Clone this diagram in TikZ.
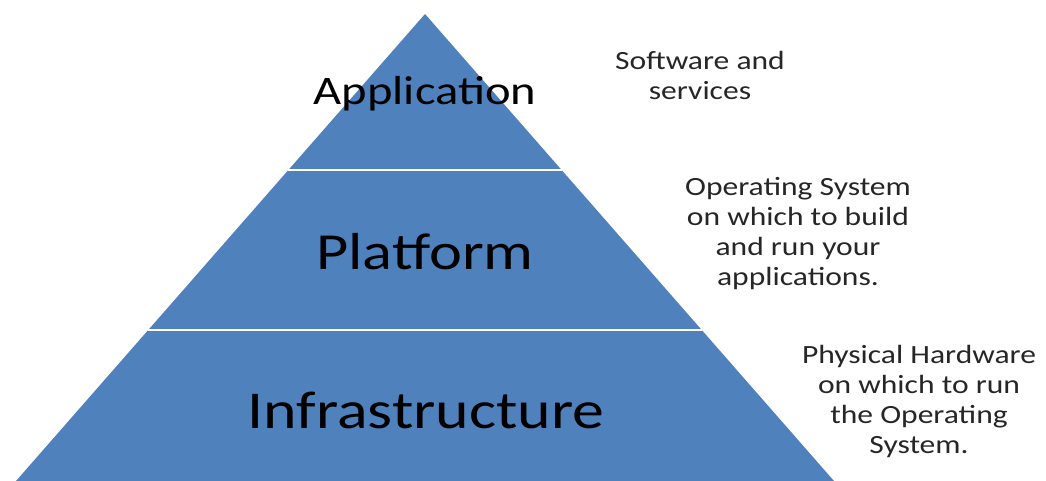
\documentclass[tikz,border=0pt]{standalone}
\usepackage{fontspec}
\setmainfont{Carlito}
\newfontfamily\widefont[FakeStretch=1.2]{Carlito}
\definecolor{pyrblue}{HTML}{4F81BD}
\tikzset{
  layertext/.style={inner sep=0pt, anchor=center, text=black, font=\widefont\fontsize{52}{60}\selectfont},
  sidetext/.style={inner sep=0pt, align=center, text=black!85, font=\widefont\fontsize{26.3}{30}\selectfont},
  divider/.style={draw=white, line width=2.5pt}
}
\begin{document}
\begin{tikzpicture}[x=1pt,y=-1pt]
\useasboundingbox (0,0) rectangle (1046,481);
\clip (0,0) rectangle (1046,481);
\coordinate (apex) at (425,14);
\coordinate (bl) at (16,481);
\coordinate (br) at (834,481);
\fill[pyrblue] (apex) -- (br) -- (bl) -- cycle;
\coordinate (l1) at (288,170);
\coordinate (r1) at (562,170);
\coordinate (l2) at (148,330);
\coordinate (r2) at (702,330);
\draw[divider] (l1) -- (r1);
\draw[divider] (l2) -- (r2);
\node[layertext, font=\widefont\fontsize{40.5}{48}\selectfont] (app) at (425,94) {Application};
\node[layertext] (plat) at (425,252) {Platform};
\node[layertext, font=\widefont\fontsize{53.2}{60}\selectfont] (infra) at (426,410) {Infrastructure};
\node[sidetext] (s1) at (700,75) {Software and\\services};
\node[sidetext] (s2) at (798,234) {Operating System\\on which to build\\and run your\\applications.};
\node[sidetext] (s3) at (919,401) {Physical Hardware\\on which to run\\the Operating\\System.};
\end{tikzpicture}
\end{document}
